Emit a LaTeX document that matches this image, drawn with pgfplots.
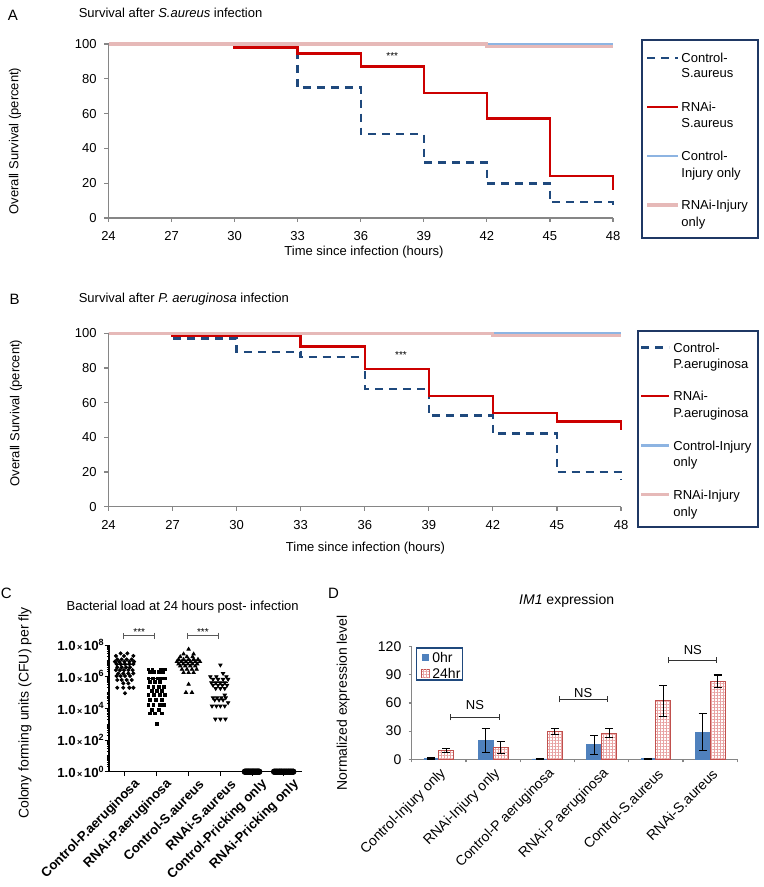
\documentclass[border=0pt]{standalone}
\usepackage{fontspec}
\setmainfont{Liberation Sans}
\usepackage{pgfplots}
\pgfplotsset{compat=1.18}
\usetikzlibrary{patterns.meta,arrows.meta}
\definecolor{kmnavy}{HTML}{1F497D}
\definecolor{kmred}{HTML}{CC0000}
\definecolor{lblue}{HTML}{8DB4E2}
\definecolor{lpink}{HTML}{E6B9B8}
\definecolor{axgray}{HTML}{868686}
\definecolor{legnavy}{HTML}{1F3864}
\definecolor{barblue}{HTML}{4F81BD}
\definecolor{barred}{HTML}{C0504D}
\definecolor{hatchpink}{HTML}{E8A3A3}
\newcommand\fT{\fontsize{6.5}{7.8}\selectfont}
\newcommand\fTb{\fontsize{6.6}{7.8}\selectfont\bfseries}
\newcommand\fL{\fontsize{7.5}{9}\selectfont}
\newcommand\fD{\fontsize{7}{8.4}\selectfont}
\newcommand\fS{\fontsize{5}{6}\selectfont}
\newcommand\cfu[1]{\textbf{1.0}{\fontsize{4.5}{5}\selectfont\,×\,}\textbf{10}\raisebox{0.42em}{\fontsize{4.5}{5}\selectfont\textbf{#1}}}
\tikzset{lg/.style={anchor=west, inner sep=0pt, font=\fT, text height=4.7pt, text depth=0pt}}
\begin{document}
\begin{tikzpicture}
\useasboundingbox (0,0) rectangle (382pt,-443.5pt);

% ---------------- Panel A ----------------
\node[font=\fL] at (6.4pt,-7.6pt) {A};
\node[anchor=west, font=\fT, inner sep=0pt] at (39.2pt,-6.35pt) {Survival after \textit{S.aureus} infection};
\node[font=\fT, rotate=90] at (7.5pt,-70.5pt) {Overall Survival (percent)};
\node[font=\fT] at (182pt,-126pt) {Time since infection (hours)};
\begin{axis}[
  at={(54.25pt,-109pt)}, anchor=south west, scale only axis,
  width=252.25pt, height=87pt,
  xmin=24, xmax=48, ymin=0, ymax=100,
  xtick={24,27,...,48}, ytick={0,20,...,100},
  axis lines*=left,
  axis line style={axgray, line width=0.6pt},
  tick style={axgray, line width=0.6pt},
  tick align=outside, major tick length=2pt,
  ticklabel style={font=\fT, inner sep=0pt},
  xticklabel shift=4.7pt, yticklabel shift=3.8pt,
  /pgf/number format/assume math mode=true,
  clip=false,
]
\addplot[kmnavy, line width=1.2pt, dash pattern=on 4pt off 3pt, const plot] coordinates {(24,100) (33,74.9) (36,48.2) (39,32) (42,19.8) (45,9.1) (48,6.7)};
\addplot[kmred, line width=1.2pt, const plot] coordinates {(24,100) (30,98.1) (33,94.5) (36,87) (39,71.8) (42,57.1) (45,24) (48,16.2)};
\addplot[lblue, line width=1.3pt, const plot] coordinates {(24,100) (48,100)};
\addplot[lpink, line width=1.6pt, const plot] coordinates {(24,100) (42,98.7) (48,98.7)};
\node[font=\fS, inner sep=0pt] at (axis cs:37.5,93.1) {***};
\end{axis}
% legend A
\draw[legnavy, line width=0.8pt] (321pt,-20pt) rectangle (379pt,-119pt);
\draw[kmnavy, line width=1.2pt, dash pattern=on 4pt off 3pt] (323.5pt,-29.15pt) -- (339pt,-29.15pt);
\draw[kmred, line width=1.2pt] (323.5pt,-53.65pt) -- (339pt,-53.65pt);
\draw[lblue, line width=1.3pt] (323.5pt,-78pt) -- (339pt,-78pt);
\draw[lpink, line width=1.6pt] (323.5pt,-102.5pt) -- (339pt,-102.5pt);
\node[lg] at (340.5pt,-29.15pt) {Control-};
\node[lg] at (340.5pt,-36.65pt) {S.aureus};
\node[lg] at (340.5pt,-53.65pt) {RNAi-};
\node[lg] at (340.5pt,-61.35pt) {S.aureus};
\node[lg] at (340.5pt,-78pt) {Control-};
\node[lg] at (340.5pt,-86.35pt) {Injury only};
\node[lg] at (340.5pt,-102.5pt) {RNAi-Injury};
\node[lg] at (340.5pt,-110.85pt) {only};

% ---------------- Panel B ----------------
\node[font=\fL] at (7.35pt,-149.75pt) {B};
\node[anchor=west, font=\fT, inner sep=0pt] at (39.2pt,-149.5pt) {Survival after \textit{P. aeruginosa} infection};
\node[font=\fT, rotate=90] at (8pt,-206.5pt) {Overall Survival (percent)};
\node[font=\fT] at (182.75pt,-274pt) {Time since infection (hours)};
\begin{axis}[
  at={(54.25pt,-253.35pt)}, anchor=south west, scale only axis,
  width=256.25pt, height=86.7pt,
  xmin=24, xmax=48, ymin=0, ymax=100,
  xtick={24,27,...,48}, ytick={0,20,...,100},
  axis lines*=left,
  axis line style={axgray, line width=0.6pt},
  tick style={axgray, line width=0.6pt},
  tick align=outside, major tick length=2pt,
  ticklabel style={font=\fT, inner sep=0pt},
  xticklabel shift=4.7pt, yticklabel shift=3.8pt,
  /pgf/number format/assume math mode=true,
  clip=false,
]
\addplot[kmnavy, line width=1.2pt, dash pattern=on 4pt off 3pt, const plot] coordinates {(24,100) (27,97.1) (30,89.3) (33,86.2) (36,68) (39,52.5) (42,42.3) (45,19.9) (48,15.3)};
\addplot[kmred, line width=1.2pt, const plot] coordinates {(24,100) (27,98.5) (33,92.3) (36,79.5) (39,64) (42,54) (45,49.2) (48,44)};
\addplot[lblue, line width=1.3pt, const plot] coordinates {(24,100) (48,100)};
\addplot[lpink, line width=1.6pt, const plot] coordinates {(24,100) (42,98.7) (48,98.7)};
\node[font=\fS, inner sep=0pt] at (axis cs:37.7,87.5) {***};
\end{axis}
% legend B
\draw[legnavy, line width=0.8pt] (319pt,-165.5pt) rectangle (379pt,-263.5pt);
\draw[kmnavy, line width=1.2pt, dash pattern=on 4pt off 3pt] (320.5pt,-173.65pt) -- (334.5pt,-173.65pt);
\draw[kmred, line width=1.2pt] (320.5pt,-198pt) -- (334.5pt,-198pt);
\draw[lblue, line width=1.3pt] (320.5pt,-222.65pt) -- (334.5pt,-222.65pt);
\draw[lpink, line width=1.6pt] (320.5pt,-247.35pt) -- (334.5pt,-247.35pt);
\node[lg] at (336.5pt,-173.65pt) {Control-};
\node[lg] at (336.5pt,-182pt) {P.aeruginosa};
\node[lg] at (336.5pt,-198pt) {RNAi-};
\node[lg] at (336.5pt,-206.35pt) {P.aeruginosa};
\node[lg] at (336.5pt,-222.65pt) {Control-Injury};
\node[lg] at (336.5pt,-231pt) {only};
\node[lg] at (336.5pt,-247.35pt) {RNAi-Injury};
\node[lg] at (336.5pt,-255.65pt) {only};

% ---------------- Panel C ----------------
\node[font=\fL] at (3.15pt,-296.75pt) {C};
\node[font=\fT] at (91.35pt,-303.6pt) {Bacterial load at 24 hours post- infection};
\node[font=\fD, rotate=90] at (12.5pt,-356.5pt) {Colony forming units (CFU) per fly};
\begin{axis}[
  at={(54.5pt,-385.85pt)}, anchor=south west, scale only axis,
  width=96.5pt, height=63.35pt,
  xmin=-0.503, xmax=5.566, ymode=log, ymin=1, ymax=1e8,
  xtick={0,...,5},
  xticklabels={Control-P.aeruginosa,RNAi-P.aeruginosa,Control-S.aureus,RNAi-S.aureus,Control-Pricking only,RNAi-Pricking only},
  ytick={1,1e2,1e4,1e6,1e8},
  yticklabels={\cfu{0},\cfu{2},\cfu{4},\cfu{6},\cfu{8}},
  minor ytick={2,3,4,5,6,7,8,9,10,20,30,40,50,60,70,80,90,200,300,400,500,600,700,800,900,1000,2000,3000,4000,5000,6000,7000,8000,9000,2e4,3e4,4e4,5e4,6e4,7e4,8e4,9e4,1e5,2e5,3e5,4e5,5e5,6e5,7e5,8e5,9e5,2e6,3e6,4e6,5e6,6e6,7e6,8e6,9e6,1e7,2e7,3e7,4e7,5e7,6e7,7e7,8e7,9e7},
  axis lines*=left,
  axis line style={black, line width=0.6pt},
  tick style={black, line width=0.5pt},
  tick align=outside, major tick length=2.2pt, minor tick length=1.1pt,
  ticklabel style={font=\fTb, inner sep=0pt},
  xticklabel style={xshift=6.5pt, yshift=-3pt, rotate=45, anchor=east},
  yticklabel shift=0.3pt,
  clip=false,
]
\addplot[only marks, mark=*, mark size=0.8pt, black] coordinates {
(-0.137,2.95e7) (0.074,2.95e7)
(-0.284,2.04e7) (-0.032,2.04e7) (0.263,2.04e7)
(-0.242,1.23e7) (-0.105,1.23e7) (0.053,1.23e7) (0.211,1.23e7)
(-0.316,8.9e6) (-0.179,8.9e6) (-0.021,8.9e6) (0.137,8.9e6) (0.284,8.9e6)
(-0.263,6.3e6) (-0.137,6.3e6) (0,6.3e6) (0.137,6.3e6) (0.263,6.3e6)
(-0.242,3.9e6) (-0.105,3.9e6) (0.032,3.9e6) (0.158,3.9e6)
(-0.284,2.6e6) (-0.158,2.6e6) (-0.032,2.6e6) (0.105,2.6e6) (0.242,2.6e6)
(-0.21,1.6e6) (-0.053,1.6e6) (0.105,1.6e6) (0.263,1.6e6)
(-0.263,1.1e6) (-0.137,1.1e6) (0,1.1e6) (0.158,1.1e6)
(-0.242,6.2e5) (-0.105,6.2e5) (0.053,6.2e5) (0.211,6.2e5)
(-0.053,3.8e5) (0.105,3.8e5)
(-0.242,2.0e5) (-0.053,2.0e5) (0.137,2.0e5) (0.263,2.0e5)
(0,8.9e4)};
\addplot[only marks, mark=square*, mark size=0.72pt, black] coordinates {
(0.737,2.9e6) (0.863,2.9e6) (1.126,2.9e6) (1.263,2.9e6)
(0.79,2.1e6) (0.916,2.1e6) (1.053,2.1e6) (1.189,2.1e6)
(0.737,7.8e5) (0.874,7.8e5) (1.021,7.8e5) (1.158,7.8e5) (1.263,7.8e5)
(0.79,4.8e5) (0.947,4.8e5) (1.105,4.8e5)
(0.737,2.3e5) (0.895,2.3e5) (1.053,2.3e5) (1.21,2.3e5)
(0.842,1.2e5) (1,1.2e5) (1.158,1.2e5)
(0.737,6.9e4) (0.916,6.9e4) (1.105,6.9e4) (1.263,6.9e4)
(0.79,3.4e4) (0.979,3.4e4) (1.158,3.4e4)
(0.737,1.6e4) (0.895,1.6e4) (1.084,1.6e4) (1.232,1.6e4)
(0.842,7.8e3) (1.053,7.8e3)
(0.79,4.8e3) (0.947,4.8e3) (1.158,4.8e3)
(1,9.8e2)};
\addplot[only marks, mark=triangle*, mark size=0.95pt, black] coordinates {
(2,5.4e7)
(1.842,2.7e7) (2.158,2.7e7)
(1.737,1.8e7) (1.947,1.8e7) (2.126,1.8e7)
(1.684,1.23e7) (1.842,1.23e7) (2,1.23e7) (2.158,1.23e7) (2.295,1.23e7)
(1.632,8.9e6) (1.768,8.9e6) (1.916,8.9e6) (2.063,8.9e6) (2.21,8.9e6) (2.358,8.9e6)
(1.684,6.3e6) (1.832,6.3e6) (1.979,6.3e6) (2.126,6.3e6) (2.274,6.3e6)
(1.737,4.7e6) (1.895,4.7e6) (2.053,4.7e6) (2.21,4.7e6)
(1.79,2.9e6) (1.947,2.9e6) (2.105,2.9e6) (2.253,2.9e6)
(1.842,1.8e6) (2,1.8e6) (2.158,1.8e6)
(2,3.3e5)
(1.916,1.0e5) (2.105,1.0e5)};
\addplot[only marks, mark=triangle*, mark size=0.95pt, mark options={rotate=180}, black] coordinates {
(3,5.5e6)
(3.084,1.6e6)
(2.684,1.0e6) (2.874,1.0e6) (3.189,1.0e6)
(2.768,6.8e5) (2.926,6.8e5) (3.084,6.8e5) (3.242,6.8e5)
(2.716,4.2e5) (2.853,4.2e5) (3,4.2e5) (3.137,4.2e5)
(2.768,2.9e5) (2.926,2.9e5) (3.063,2.9e5) (3.21,2.9e5)
(2.853,1.8e5) (3,1.8e5) (3.137,1.8e5)
(3.137,6.9e4)
(2.768,4.7e4) (2.895,4.7e4) (3.032,4.7e4) (3.168,4.7e4)
(2.821,3.4e4) (2.958,3.4e4) (3.084,3.4e4)
(3.242,2.3e4)
(2.737,1.4e4) (2.874,1.4e4) (3,1.4e4) (3.137,1.4e4)
(2.842,2.1e3) (3,2.1e3) (3.158,2.1e3)};
\addplot[only marks, mark=*, mark size=1.4pt, black] coordinates {
(3.77,1) (3.80,1) (3.83,1) (3.86,1) (3.89,1) (3.92,1) (3.95,1) (3.98,1)
(4.01,1) (4.04,1) (4.07,1) (4.10,1) (4.13,1) (4.16,1) (4.19,1) (4.22,1)};
\addplot[only marks, mark=*, mark size=1.4pt, black] coordinates {
(4.69,1) (4.73,1) (4.77,1) (4.81,1) (4.85,1) (4.89,1) (4.93,1) (4.97,1)
(5.01,1) (5.05,1) (5.09,1) (5.13,1) (5.17,1) (5.21,1) (5.25,1) (5.29,1)};
\addplot[black, line width=0.5pt] coordinates {(-0.25,6e6) (0.25,6e6)};
\addplot[black, line width=0.5pt] coordinates {(0.75,7.4e5) (1.25,7.4e5)};
\addplot[black, line width=0.5pt] coordinates {(1.75,8e6) (2.25,8e6)};
\addplot[black, line width=0.5pt] coordinates {(2.75,4.2e5) (3.25,4.2e5)};
\draw[black!65, line width=0.5pt, {Bar[width=3pt]}-{Bar[width=3pt]}] (axis cs:-0.05,3.9e8) -- (axis cs:0.95,3.9e8);
\draw[black!65, line width=0.5pt, {Bar[width=3pt]}-{Bar[width=3pt]}] (axis cs:1.95,3.9e8) -- (axis cs:2.95,3.9e8);
\node[font=\fS, inner sep=0pt, anchor=south] at (axis cs:0.45,3.9e8) {***};
\node[font=\fS, inner sep=0pt, anchor=south] at (axis cs:2.45,3.9e8) {***};
\end{axis}

% ---------------- Panel D ----------------
\node[font=\fL] at (166.8pt,-296.75pt) {D};
\node[font=\fD] at (283.35pt,-300.35pt) {\textit{IM1} expression};
\node[font=\fD, rotate=90] at (171.65pt,-351.5pt) {Normalized expression level};
\begin{axis}[
  at={(205.85pt,-379.65pt)}, anchor=south west, scale only axis,
  width=162.8pt, height=56.3pt,
  xmin=0.5, xmax=6.5, ymin=0, ymax=120,
  ybar=0pt, bar width=7.5pt,
  xtick={1,...,6},
  xticklabels={Control-Injury only,RNAi-Injury only,Control-P aeruginosa,RNAi-P aeruginosa,Control-S.aureus,RNAi-S.aureus},
  minor xtick={0.5,1.5,...,6.5},
  ytick={0,30,...,120}, minor ytick={0,30,...,120},
  axis lines*=left,
  axis line style={axgray, line width=0.6pt},
  tick style={axgray, line width=0.6pt},
  tick align=outside, major tick length=0pt, minor tick length=1.5pt,
  ticklabel style={font=\fD, inner sep=0pt},
  xticklabel style={xshift=2.5pt, yshift=-6pt, rotate=45, anchor=east},
  yticklabel shift=5pt,
  /pgf/number format/assume math mode=true,
  clip=false,
]
\addplot[fill=barblue, draw=barblue, line width=0.3pt,
  error bars/.cd, y dir=both, y explicit,
  error bar style={black, line width=0.6pt},
  error mark options={black, rotate=90, mark size=2pt, line width=0.6pt}]
  coordinates {(1,0.8) +- (0,0.5) (2,20) +- (0,13) (3,0.5) +- (0,0.3) (4,15.5) +- (0,10) (5,0.8) +- (0,0.4) (6,29) +- (0,20)};
\addplot[fill=white, draw=barred, line width=0.5pt,
  postaction={pattern={Hatch[angle=0,distance=1.5pt,line width=0.45pt]}, pattern color=hatchpink},
  error bars/.cd, y dir=both, y explicit,
  error bar style={black, line width=0.6pt},
  error mark options={black, rotate=90, mark size=2pt, line width=0.6pt}]
  coordinates {(1,9.5) +- (0,2.3) (2,12.5) +- (0,6.2) (3,29.8) +- (0,3.2) (4,27.7) +- (0,4.8) (5,62.5) +- (0,16.5) (6,83.3) +- (0,6.5)};
\draw[black!80, line width=0.5pt, {Bar[width=3pt]}-{Bar[width=3pt]}] (axis cs:1.2,44.8) -- (axis cs:2.13,44.8);
\draw[black!80, line width=0.5pt, {Bar[width=3pt]}-{Bar[width=3pt]}] (axis cs:3.21,64) -- (axis cs:4.11,64);
\draw[black!80, line width=0.5pt, {Bar[width=3pt]}-{Bar[width=3pt]}] (axis cs:5.23,105.8) -- (axis cs:6.13,105.8);
\node[font=\fT] at (axis cs:1.665,57.9) {NS};
\node[font=\fT] at (axis cs:3.66,71) {NS};
\node[font=\fT] at (axis cs:5.68,116.5) {NS};
\end{axis}
% legend D
\draw[kmnavy, line width=0.6pt] (208.25pt,-324pt) rectangle (231.35pt,-340pt);
\fill[barblue] (210.85pt,-327pt) rectangle (214.65pt,-330.6pt);
\draw[barred, line width=0.4pt, fill=white, postaction={pattern={Hatch[angle=0,distance=1.5pt,line width=0.45pt]}, pattern color=hatchpink}] (210.85pt,-334.8pt) rectangle (214.65pt,-338.5pt);
\node[anchor=west, inner sep=0pt, font=\fD, text height=5pt, text depth=0pt] at (216pt,-328.8pt) {0hr};
\node[anchor=west, inner sep=0pt, font=\fD, text height=5pt, text depth=0pt] at (216pt,-336.6pt) {24hr};
\end{tikzpicture}
\end{document}
